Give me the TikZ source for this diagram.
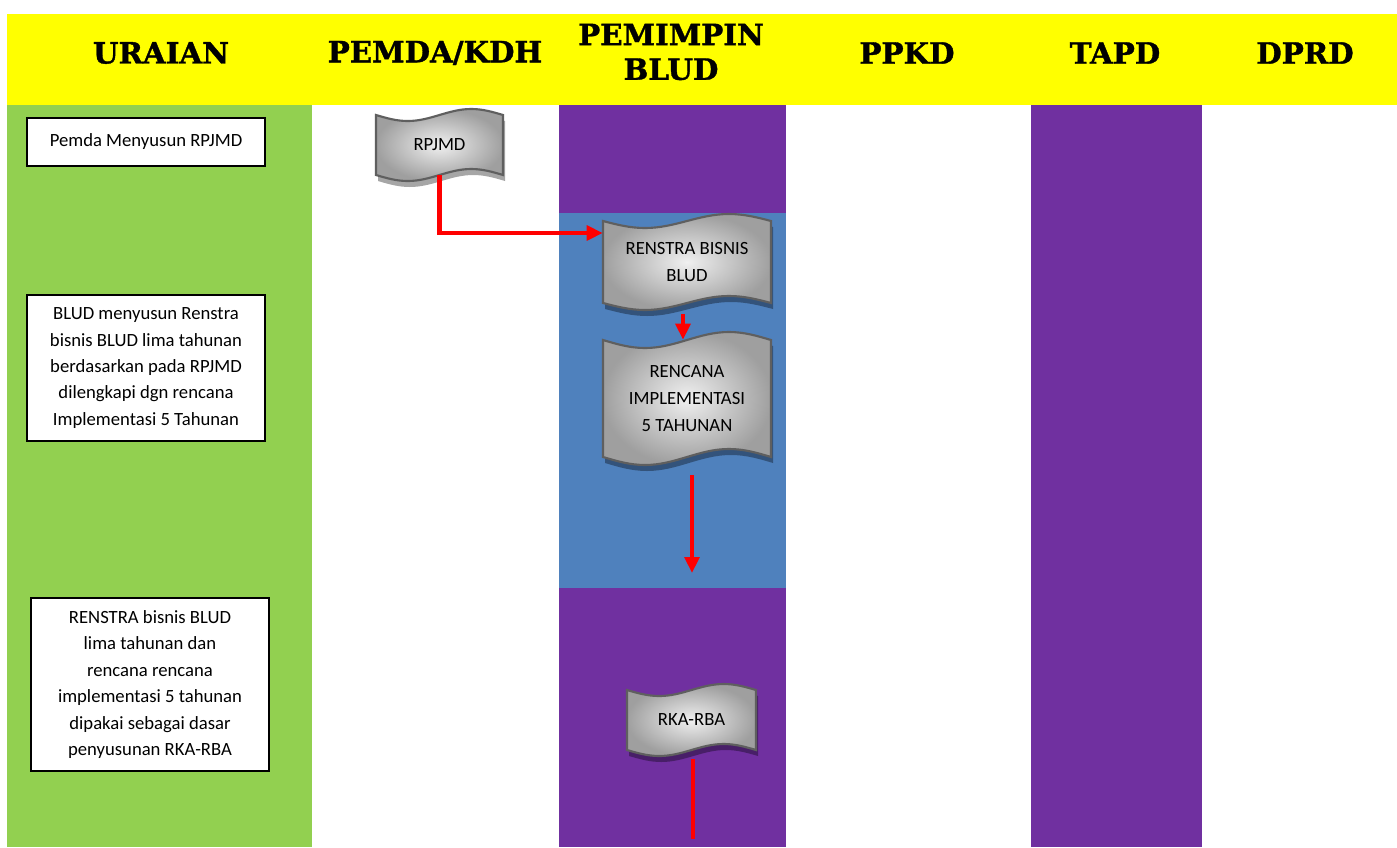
\documentclass[tikz,border=0pt]{standalone}
\usepackage{fontspec}
\setmainfont{Carlito}
\newfontfamily\headfont{DejaVu Serif Bold}[FakeBold=1.2]
\usetikzlibrary{arrows.meta,calc}
\definecolor{hdryellow}{HTML}{FFFF00}
\definecolor{colgreen}{HTML}{92D050}
\definecolor{colpurple}{HTML}{7030A0}
\definecolor{colblue}{HTML}{4F81BD}
\definecolor{tapeline}{HTML}{5F5F5F}
\newcommand\tapepath[5]{(#1,#3) sin ({#1+(#2-#1)/4},{#3+#5}) cos ({(#1+#2)/2},#3) sin ({#1+3*(#2-#1)/4},{#3-#5}) cos (#2,#3) -- (#2,#4) sin ({#1+3*(#2-#1)/4},{#4-#5}) cos ({(#1+#2)/2},#4) sin ({#1+(#2-#1)/4},{#4+#5}) cos (#1,#4) -- cycle}
\newcommand\tapeshape[5]{%
  \begin{scope}[shift={(2,6)}]
    \fill[black,opacity=0.35] \tapepath{#1}{#2}{#3}{#4}{#5};
  \end{scope}
  \shade[inner color=gray!12, outer color=gray!75, draw=tapeline, line width=1.6pt] \tapepath{#1}{#2}{#3}{#4}{#5};
}
\tikzset{
  hd/.style={font=\headfont\fontsize{22}{26}\selectfont, align=center, inner sep=0pt},
  ubox/.style={draw=black, fill=white, line width=1.4pt, align=center, inner sep=0pt,
    font=\fontsize{14}{19.8}\selectfont},
  tapetext/.style={align=center, inner sep=0pt, font=\fontsize{14}{20}\selectfont},
  redarrow/.style={draw=red, line width=3.4pt, -{Triangle[width=11pt,length=12pt]}},
  redline/.style={draw=red, line width=3.4pt}
}
\begin{document}
\begin{tikzpicture}[x=0.75pt,y=-0.75pt]
\useasboundingbox (0,0) rectangle (1397,847);
\fill[white] (0,0) rectangle (1397,847);
% header and lanes
\fill[hdryellow] (7,14) rectangle (1397,105);
\fill[colgreen] (7,105) rectangle (312,847);
\fill[colpurple] (559,105) rectangle (786,847);
\fill[colblue] (559,213) rectangle (786,588);
\fill[colpurple] (1031,105) rectangle (1202,847);
% headers
\node[hd] (h1) at (161,53) {URAIAN};
\node[hd] (h2) at (435,53) {PEMDA/KDH};
\node[hd] (h3) at (671,52) {PEMIMPIN\\BLUD};
\node[hd] (h4) at (907,53) {PPKD};
\node[hd] (h5) at (1115,53) {TAPD};
\node[hd] (h6) at (1305,53) {DPRD};
% description boxes
\node[ubox, minimum width={238*0.75pt}, minimum height={48*0.75pt}] (d1) at (146,142) {Pemda Menyusun RPJMD};
\node[ubox, minimum width={238*0.75pt}, minimum height={146*0.75pt}] (d2) at (146,368) {BLUD menyusun Renstra\\bisnis BLUD lima tahunan\\berdasarkan pada RPJMD\\dilengkapi dgn rencana\\Implementasi 5 Tahunan};
\node[ubox, minimum width={238*0.75pt}, minimum height={173*0.75pt}] (d3) at (150,684.5) {RENSTRA bisnis BLUD\\lima tahunan dan\\rencana rencana\\implementasi 5 tahunan\\dipakai sebagai dasar\\penyusunan RKA-RBA};
% tape shapes
\tapeshape{376}{503}{115}{175}{6}
\node[tapetext, minimum width={127*0.75pt}, minimum height={60*0.75pt}] (rpjmd) at (439.5,145) {RPJMD};
\tapeshape{603}{771}{221}{303}{7}
\node[tapetext, minimum width={168*0.75pt}, minimum height={82*0.75pt}] (renstra) at (687,262) {RENSTRA BISNIS\\BLUD};
\tapeshape{603}{771}{340}{457}{8}
\node[tapetext, minimum width={168*0.75pt}, minimum height={117*0.75pt}] (rencana) at (687,398.5) {RENCANA\\IMPLEMENTASI\\5 TAHUNAN};
\tapeshape{627}{756}{690}{750}{6}
\node[tapetext, minimum width={129*0.75pt}, minimum height={60*0.75pt}] (rka) at (691.5,720) {RKA-RBA};
% connectors
\draw[redarrow] (rpjmd.south) |- ($(renstra.west)+(0,-29)$);
\draw[redarrow] ($(renstra.south)+(-4,11)$) -- ($(rencana.north)+(-4,0)$);
\coordinate (a3s) at ($(rencana.south)+(5,18)$);
\coordinate (a3e) at (692,573);
\draw[redarrow] (a3s) -- (a3e);
\coordinate (l4e) at (693,839);
\draw[redline] ($(rka.south)+(1.5,9)$) -- (l4e);
\end{tikzpicture}
\end{document}
